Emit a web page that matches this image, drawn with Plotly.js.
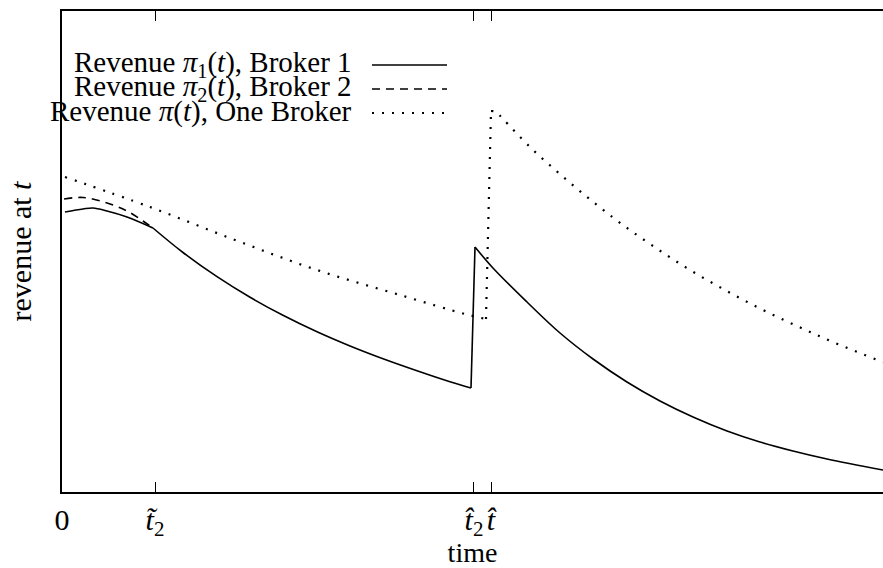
<!DOCTYPE html>
<html>
<head>
<meta charset="utf-8">
<script src="https://cdn.plot.ly/plotly-3.0.1.min.js"></script>
<style>
html,body{margin:0;padding:0;background:#fff;}
#chart{width:883px;height:568px;}
</style>
</head>
<body>
<div id="chart"></div>
<script>
// ---- data (time units: t~2 = 1) ----
var broker1Time = [0.032,0.226,0.333,0.484,0.699,0.978,1.301,1.667,2.022,2.376,2.742,3.097,3.452,3.817,4.172,4.398,4.441,4.634,5.0,5.355,5.710,6.075,6.430,6.785,7.151,7.505,7.860,8.226,8.828];
var broker1Rev  = [2.80,2.83,2.84,2.81,2.75,2.64,2.395,2.153,1.947,1.767,1.602,1.460,1.332,1.212,1.102,1.04,2.45,2.24,1.90,1.59,1.33,1.10,0.91,0.75,0.61,0.50,0.41,0.33,0.22];
var broker1Corners = [5,15,16];

var broker2Time = [0.022,0.226,0.484,0.699,0.871,0.978];
var broker2Rev  = [2.93,2.945,2.89,2.81,2.71,2.64];
var broker2Corners = [];

var oneTime = [0.032,0.946,1.860,2.742,3.634,4.333,4.559,4.613,4.667,4.742,5.043,5.366,5.699,6.032,6.387,6.753,7.129,7.516,7.903,8.290,8.796,8.828];
var oneRev  = [3.15,2.85,2.52,2.22,1.97,1.78,1.73,3.81,3.80,3.73,3.44,3.17,2.91,2.67,2.44,2.22,2.02,1.83,1.66,1.50,1.31,1.30];
var oneCorners = [6,7];

var tickVals  = [0, 1, 4.43, 4.613];
var tickTexts = ['0', '<i>t\u0303</i><sub>2</sub>', '<i>t\u0302</i><sub>2</sub>', '<i>t\u0302</i>'];

var legendLabels = ['Revenue <i>\u03c0</i><sub>1</sub>(<i>t</i>), Broker 1',
                    'Revenue <i>\u03c0</i><sub>2</sub>(<i>t</i>), Broker 2',
                    'Revenue <i>\u03c0</i>(<i>t</i>), One Broker'];
var xTitle = 'time';
var yTitle = 'revenue at <i>t</i>';

// ---- styles ----
var styles = [
  {color:'#000', width:1.6, dash:'solid'},
  {color:'#000', width:1.6, dash:'8px,6px'},
  {color:'#000', width:2.2, dash:'2px,8px'}
];
var serifFam = 'Liberation Serif';

function segments(xs, ys, corners, style){
  var cuts = [0].concat(corners).concat([xs.length-1]);
  var out = [];
  for (var i=0;i<cuts.length-1;i++){
    var a = cuts[i], b = cuts[i+1];
    out.push({
      x: xs.slice(a,b+1), y: ys.slice(a,b+1),
      type:'scatter', mode:'lines', showlegend:false, hoverinfo:'skip',
      line:{color:style.color, width:style.width, dash:style.dash,
            shape:(b-a>1?'spline':'linear'), smoothing:1}
    });
  }
  return out;
}

var traces = []
  .concat(segments(oneTime, oneRev, oneCorners, styles[2]))
  .concat(segments(broker2Time, broker2Rev, broker2Corners, styles[1]))
  .concat(segments(broker1Time, broker1Rev, broker1Corners, styles[0]));

// legend built from annotations + sample lines (text on the left, sample on the right)
var W = 821, H = 481, L = 62, T = 11;
function px2x(px){ return (px - L)/W; }
function py2y(py){ return (T + H - py)/H; }
var rowPy = [65, 89, 113];
var annotations = [], shapes = [];
for (var i=0;i<3;i++){
  annotations.push({xref:'paper', yref:'paper', x:px2x(354), y:py2y(rowPy[i]-1),
    xanchor:'right', yanchor:'middle', showarrow:false, text:legendLabels[i],
    font:{family:serifFam, size:29, color:'#000'}});
  shapes.push({type:'line', xref:'paper', yref:'paper',
    x0:px2x(372), x1:px2x(447), y0:py2y(rowPy[i]), y1:py2y(rowPy[i]),
    line:{color:'#000', width:styles[i].width, dash:styles[i].dash}});
}

var layout = {
  width:883, height:568,
  margin:{l:L, r:0, t:T, b:568-T-H},
  paper_bgcolor:'#fff', plot_bgcolor:'#fff',
  showlegend:false,
  font:{family:serifFam, size:28, color:'#000'},
  xaxis:{
    range:[0, 8.828], showgrid:false, zeroline:false,
    showline:true, linecolor:'#000', linewidth:2, mirror:'ticks',
    ticks:'inside', ticklen:10, tickwidth:1, tickcolor:'#000',
    tickmode:'array', tickvals:tickVals, ticktext:tickTexts, tickangle:0,
    ticklabelstandoff:0,
    tickfont:{family:serifFam, size:30, color:'#000'},
    title:{text:xTitle, font:{family:serifFam, size:28, color:'#000'}, standoff:3}
  },
  yaxis:{
    range:[0, 4.81], showgrid:false, zeroline:false,
    showline:true, linecolor:'#000', linewidth:2, mirror:false,
    ticks:'', showticklabels:false,
    title:{text:yTitle, font:{family:serifFam, size:30, color:'#000'}, standoff:20}
  },
  annotations:annotations,
  shapes:shapes
};

Plotly.newPlot('chart', traces, layout, {displayModeBar:false});
</script>
</body>
</html>
